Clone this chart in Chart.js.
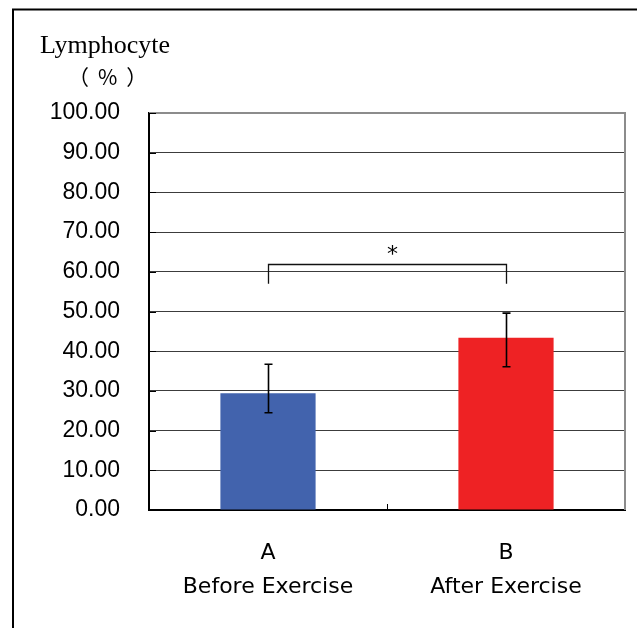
<!DOCTYPE html>
<html>
<head>
<meta charset="utf-8">
<title>Lymphocyte</title>
<script src="https://cdn.jsdelivr.net/npm/chart.js@4/dist/chart.umd.min.js"></script>
<style>
  html, body { margin: 0; padding: 0; background: #ffffff; }
  #wrap { width: 637px; height: 628px; position: relative; }
</style>
</head>
<body>
<div id="wrap"><canvas id="chart" width="637" height="628"></canvas></div>
<script>
// Group labels (two lines each)
const categories = [["A", "Before Exercise"], ["B", "After Exercise"]];
// Mean lymphocyte percentage per group
const meanValues = [29.4, 43.4];
// Error bar ends per group
const errorTop = [36.7, 49.6];
const errorBottom = [24.5, 36.1];
// Significance bracket between the two groups
const bracketLevel = 62;
const bracketLegEnd = 57;
const significanceMark = "*";
// Axis text
const axisTitle = "Lymphocyte";
const axisUnit = "（%）";
const yMin = 0, yMax = 100, yStep = 10;

const barColors = ["#4263ad", "#ee2224"];

const decorations = {
  id: "decorations",
  beforeDraw(chart) {
    const ctx = chart.ctx;
    ctx.save();
    ctx.fillStyle = "#ffffff";
    ctx.fillRect(0, 0, chart.width, chart.height);
    // outer frame (top and left edges)
    ctx.strokeStyle = "#000000";
    ctx.lineWidth = 2;
    ctx.beginPath();
    ctx.moveTo(13, chart.height);
    ctx.lineTo(13, 9.5);
    ctx.lineTo(chart.width, 9.5);
    ctx.stroke();
    ctx.restore();
  },
  afterDatasetsDraw(chart) {
    const ctx = chart.ctx;
    const xs = chart.scales.x, ys = chart.scales.y;
    const area = chart.chartArea;
    ctx.save();
    // plot frame: top and right edges
    ctx.strokeStyle = "#8c8c8c";
    ctx.lineWidth = 2;
    ctx.beginPath();
    ctx.moveTo(area.left, area.top);
    ctx.lineTo(area.right, area.top);
    ctx.lineTo(area.right, area.bottom);
    ctx.stroke();

    // inside tick marks
    ctx.strokeStyle = "#000000";
    ctx.lineWidth = 1;
    ctx.beginPath();
    for (let v = yMin; v <= yMax; v += yStep) {
      const y = Math.round(ys.getPixelForValue(v)) + 0.5;
      ctx.moveTo(area.left, y);
      ctx.lineTo(area.left + 7, y);
    }
    const mid = Math.round((xs.getPixelForValue(0) + xs.getPixelForValue(1)) / 2) + 0.5;
    ctx.moveTo(mid, area.bottom);
    ctx.lineTo(mid, area.bottom - 6);
    ctx.stroke();

    // error bars
    ctx.lineWidth = 1.6;
    meanValues.forEach((m, i) => {
      const x = Math.round(xs.getPixelForValue(i)) + 0.5;
      const yT = ys.getPixelForValue(errorTop[i]);
      const yB = ys.getPixelForValue(errorBottom[i]);
      ctx.beginPath();
      ctx.moveTo(x, yT);
      ctx.lineTo(x, yB);
      ctx.moveTo(x - 4, yT);
      ctx.lineTo(x + 4, yT);
      ctx.moveTo(x - 4, yB);
      ctx.lineTo(x + 4, yB);
      ctx.stroke();
    });

    // significance bracket
    const xa = Math.round(xs.getPixelForValue(0)) + 0.5;
    const xb = Math.round(xs.getPixelForValue(1)) + 0.5;
    const yt = Math.round(ys.getPixelForValue(bracketLevel)) + 0.5;
    const yl = ys.getPixelForValue(bracketLegEnd);
    ctx.strokeStyle = "#111111";
    ctx.lineWidth = 1.3;
    ctx.beginPath();
    ctx.moveTo(xa, yl);
    ctx.lineTo(xa, yt);
    ctx.lineTo(xb, yt);
    ctx.lineTo(xb, yl);
    ctx.stroke();
    ctx.fillStyle = "#000000";
    ctx.font = "22px 'DejaVu Sans'";
    ctx.textAlign = "center";
    ctx.textBaseline = "alphabetic";
    ctx.fillText(significanceMark, (xa + xb) / 2 + 5, yt - 4);

    // axis title
    ctx.font = "26px 'Liberation Serif'";
    ctx.textAlign = "left";
    ctx.fillText(axisTitle, 40, 53);
    // unit, spaced out like full-width brackets
    ctx.font = "21px 'Noto Sans CJK JP'";
    ctx.textAlign = "left";
    ctx.textBaseline = "middle";
    ctx.letterSpacing = "9px";
    ctx.fillText(axisUnit, 68, 77);
    ctx.letterSpacing = "0px";
    ctx.restore();
  }
};

new Chart(document.getElementById("chart"), {
  type: "bar",
  data: {
    labels: categories,
    datasets: [{
      data: meanValues,
      backgroundColor: barColors,
      borderWidth: 0,
      barPercentage: 0.4,
      categoryPercentage: 1.0
    }]
  },
  options: {
    responsive: false,
    animation: false,
    events: [],
    layout: { padding: { top: 113, right: 12, left: 0, bottom: 0 } },
    plugins: { legend: { display: false }, tooltip: { enabled: false }, title: { display: false } },
    scales: {
      x: {
        grid: { display: false, drawTicks: false },
        border: { display: true, color: "#000000", width: 2 },
        ticks: {
          color: "#000000",
          padding: 26,
          font: { family: "'DejaVu Sans'", size: 22, lineHeight: 34 / 22 }
        },
        afterFit(scale) { scale.height = 118; }
      },
      y: {
        min: yMin,
        max: yMax,
        grid: {
          drawTicks: false,
          color: (c) => (c.tick && c.tick.value === yMax) ? "rgba(0,0,0,0)" : "#3c3c3c",
          lineWidth: 1
        },
        border: { display: true, color: "#000000", width: 2 },
        ticks: {
          stepSize: yStep,
          color: "#000000",
          padding: 29,
          font: { family: "'Liberation Sans'", size: 23 },
          callback: (v) => Number(v).toFixed(2)
        },
        afterFit(scale) { scale.width = 149; }
      }
    }
  },
  plugins: [decorations]
});
</script>
</body>
</html>
